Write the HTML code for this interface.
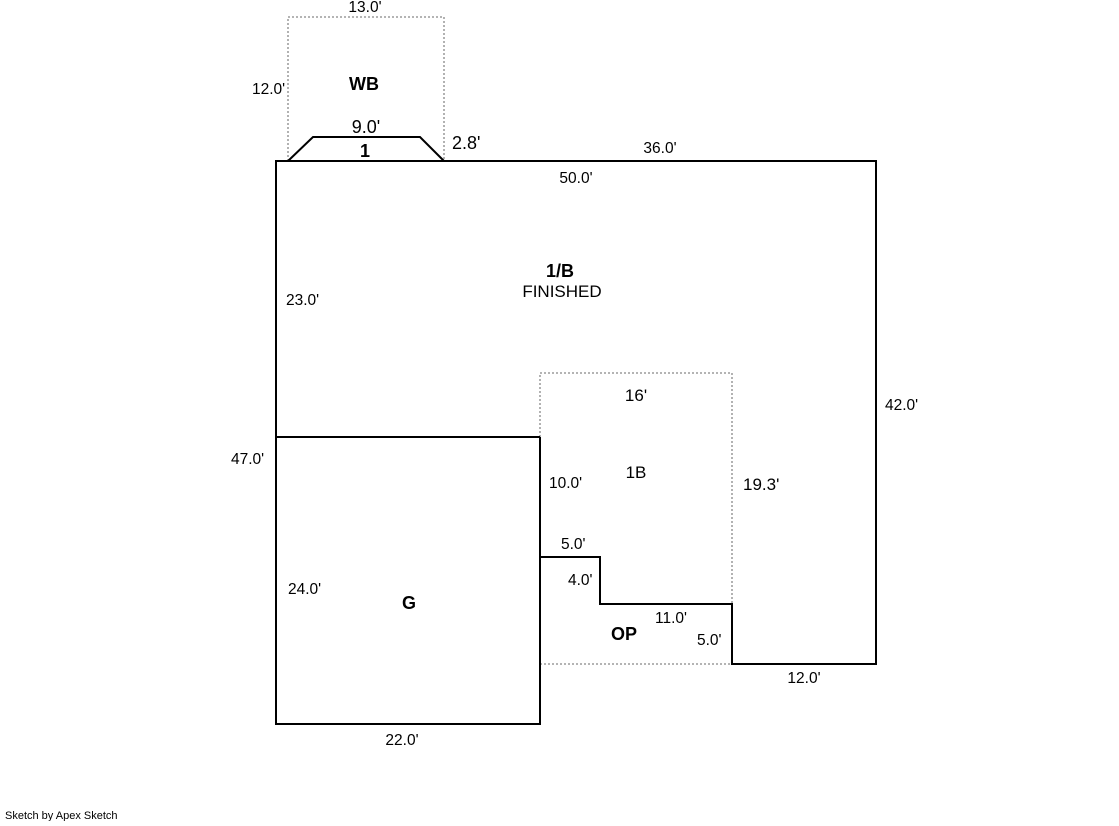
<!DOCTYPE html>
<html><head><style>
body{margin:0;background:#fff;width:1119px;height:821px;overflow:hidden}
text{font-family:"Liberation Sans",Arial,sans-serif;fill:#000}
.s{font-size:15.5px}.b{font-size:18px;font-weight:bold}.m{font-size:18px}.r{font-size:17px}
</style></head><body>
<svg width="1119" height="821" viewBox="0 0 1119 821" xmlns="http://www.w3.org/2000/svg">
<g fill="none" stroke="#888" stroke-width="1.3" stroke-dasharray="2,2">
<polyline points="288,161 288,17 444,17 444,161"/>
<polyline points="540,437 540,373 732,373 732,604"/>
<line x1="540" y1="664" x2="732" y2="664"/>
</g>
<g fill="none" stroke="#000" stroke-width="2">
<polygon points="276,161 876,161 876,664 732,664 732,604 600,604 600,557 540,557 540,724 276,724"/>
<line x1="276" y1="437" x2="540" y2="437"/>
<line x1="540" y1="437" x2="540" y2="557"/>
<polyline points="288,161 313,137 420,137 444,161"/>
</g>
<text class="s" x="365" y="12" text-anchor="middle">13.0'</text>
<text class="s" x="252" y="94">12.0'</text>
<text class="b" x="364" y="90" text-anchor="middle">WB</text>
<text class="m" x="366" y="133" text-anchor="middle">9.0'</text>
<text class="b" x="365" y="157" text-anchor="middle">1</text>
<text class="m" x="452" y="149">2.8'</text>
<text class="s" x="660" y="153" text-anchor="middle">36.0'</text>
<text class="s" x="576" y="183" text-anchor="middle">50.0'</text>
<text class="b" x="560" y="277" text-anchor="middle">1/B</text>
<text class="r" x="562" y="297" text-anchor="middle">FINISHED</text>
<text class="s" x="286" y="305">23.0'</text>
<text class="s" x="885" y="410">42.0'</text>
<text class="r" x="636" y="401" text-anchor="middle">16'</text>
<text class="s" x="231" y="464">47.0'</text>
<text class="r" x="636" y="478" text-anchor="middle">1B</text>
<text class="s" x="549" y="488">10.0'</text>
<text class="r" x="743" y="490">19.3'</text>
<text class="s" x="561" y="549">5.0'</text>
<text class="s" x="568" y="585">4.0'</text>
<text class="s" x="288" y="594">24.0'</text>
<text class="b" x="409" y="609" text-anchor="middle">G</text>
<text class="s" x="655" y="623">11.0'</text>
<text class="b" x="624" y="640" text-anchor="middle">OP</text>
<text class="s" x="697" y="645">5.0'</text>
<text class="s" x="804" y="683" text-anchor="middle">12.0'</text>
<text class="s" x="402" y="745" text-anchor="middle">22.0'</text>
<text x="5" y="819" style="font-size:11px">Sketch by Apex Sketch</text>
</svg>
</body></html>
